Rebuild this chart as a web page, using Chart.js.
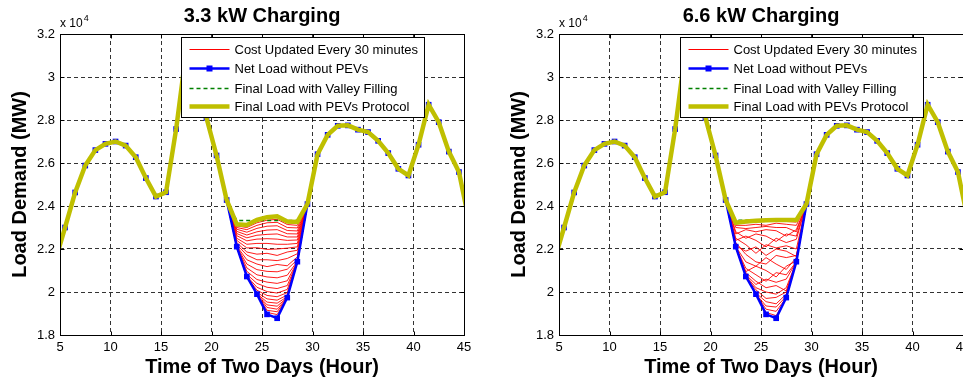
<!DOCTYPE html>
<html>
<head>
<meta charset="utf-8">
<script src="https://cdn.jsdelivr.net/npm/chart.js@4.4.0/dist/chart.umd.min.js"></script>
<style>
html, body { margin: 0; padding: 0; background: #fff; overflow: hidden; width: 963px; height: 382px; }
#chart33 { position: absolute; left: 0; top: 0; }
#chart66 { position: absolute; left: 499px; top: 0; }
</style>
</head>
<body>
<canvas id="chart33" width="480" height="382"></canvas>
<canvas id="chart66" width="480" height="382"></canvas>
<script>
// load values in units of 10^4 MW, one per hour
const hours = [4.5, 5.5, 6.5, 7.5, 8.5, 9.5, 10.5, 11.5, 12.5, 13.5, 14.5, 15.5, 16.5, 17.5,
    18.5, 19.5, 20.5, 21.5, 22.5, 23.5, 24.5, 25.5, 26.5, 27.5, 28.5, 29.5, 30.5, 31.5,
    32.5, 33.5, 34.5, 35.5, 36.5, 37.5, 38.5, 39.5, 40.5, 41.5, 42.5, 43.5, 44.5, 45.5];
const netLoad = [2.14, 2.30, 2.463, 2.588, 2.66, 2.689, 2.70, 2.681, 2.627, 2.53, 2.444, 2.464, 2.758, 3.12,
    3.04, 2.81, 2.635, 2.428, 2.211, 2.072, 1.99, 1.896, 1.878, 1.974, 2.141, 2.409, 2.641, 2.731,
    2.773, 2.775, 2.755, 2.744, 2.703, 2.646, 2.573, 2.542, 2.685, 2.871, 2.79, 2.653, 2.558, 2.33];

// the valley hours 22.5 .. 28.5 (index 18 .. 24 of hours)
const valleyStart = 18;
const fill33 = [2.333, 2.333, 2.333, 2.333, 2.333, 2.333, 2.333];
const final33 = [2.315, 2.312, 2.335, 2.348, 2.352, 2.328, 2.326];
const fill66 = [2.334, 2.334, 2.334, 2.334, 2.334, 2.334, 2.334];
const final66 = [2.322, 2.328, 2.331, 2.334, 2.335, 2.335, 2.335];

const iter33 = [
    [2.211, 2.072, 1.990, 1.905, 1.895, 1.974, 2.141],
    [2.211, 2.072, 1.990, 1.915, 1.908, 1.974, 2.141],
    [2.211, 2.072, 1.990, 1.928, 1.920, 1.974, 2.141],
    [2.211, 2.072, 1.990, 1.940, 1.934, 1.974, 2.141],
    [2.211, 2.072, 1.992, 1.953, 1.948, 1.978, 2.141],
    [2.211, 2.072, 1.998, 1.968, 1.962, 1.986, 2.141],
    [2.211, 2.072, 2.008, 1.984, 1.978, 1.997, 2.141],
    [2.211, 2.074, 2.022, 2.002, 1.995, 2.012, 2.141],
    [2.211, 2.082, 2.040, 2.022, 2.016, 2.030, 2.141],
    [2.211, 2.096, 2.058, 2.046, 2.040, 2.052, 2.141],
    [2.211, 2.112, 2.080, 2.070, 2.066, 2.078, 2.143],
    [2.211, 2.130, 2.104, 2.096, 2.094, 2.106, 2.150],
    [2.213, 2.150, 2.130, 2.118, 2.128, 2.122, 2.163],
    [2.220, 2.172, 2.150, 2.150, 2.146, 2.156, 2.178],
    [2.230, 2.186, 2.176, 2.180, 2.170, 2.186, 2.194],
    [2.240, 2.205, 2.206, 2.198, 2.200, 2.204, 2.210],
    [2.250, 2.222, 2.226, 2.226, 2.222, 2.222, 2.226],
    [2.262, 2.238, 2.246, 2.248, 2.246, 2.240, 2.242],
    [2.272, 2.252, 2.264, 2.268, 2.270, 2.256, 2.256],
    [2.282, 2.265, 2.280, 2.288, 2.290, 2.271, 2.270],
    [2.292, 2.278, 2.296, 2.306, 2.308, 2.286, 2.284],
    [2.300, 2.290, 2.310, 2.322, 2.324, 2.300, 2.298],
    [2.307, 2.300, 2.322, 2.334, 2.338, 2.314, 2.310],
    [2.312, 2.308, 2.330, 2.344, 2.348, 2.323, 2.320]
];
const iter66 = [
    [2.211, 2.072, 1.990, 1.905, 1.890, 1.974, 2.141],
    [2.211, 2.072, 1.990, 1.920, 1.910, 1.974, 2.141],
    [2.211, 2.072, 1.990, 1.935, 1.930, 1.980, 2.141],
    [2.211, 2.072, 1.995, 1.955, 1.945, 1.990, 2.141],
    [2.211, 2.072, 2.010, 1.970, 1.975, 2.000, 2.141],
    [2.211, 2.075, 2.020, 2.000, 1.990, 2.020, 2.141],
    [2.211, 2.090, 2.050, 2.020, 2.030, 2.005, 2.141],
    [2.211, 2.080, 2.035, 2.060, 2.045, 2.060, 2.141],
    [2.211, 2.110, 2.080, 2.050, 2.090, 2.080, 2.141],
    [2.211, 2.095, 2.120, 2.100, 2.070, 2.120, 2.145],
    [2.211, 2.140, 2.120, 2.160, 2.130, 2.105, 2.160],
    [2.230, 2.175, 2.140, 2.130, 2.170, 2.160, 2.170],
    [2.215, 2.190, 2.210, 2.170, 2.200, 2.190, 2.165],
    [2.250, 2.220, 2.180, 2.220, 2.205, 2.215, 2.200],
    [2.240, 2.260, 2.240, 2.210, 2.250, 2.230, 2.245],
    [2.280, 2.250, 2.270, 2.260, 2.235, 2.270, 2.260],
    [2.270, 2.290, 2.280, 2.290, 2.285, 2.260, 2.290],
    [2.300, 2.295, 2.300, 2.305, 2.300, 2.300, 2.280],
    [2.310, 2.310, 2.315, 2.310, 2.320, 2.315, 2.310],
    [2.318, 2.322, 2.325, 2.328, 2.330, 2.328, 2.325]
];

const xTicks = [5, 10, 15, 20, 25, 30, 35, 40, 45];
const yTicks = [1.8, 2, 2.2, 2.4, 2.6, 2.8, 3, 3.2];
const seriesNames = ['Cost Updated Every 30 minutes', 'Net Load without PEVs',
    'Final Load with Valley Filling', 'Final Load with PEVs Protocol'];

const FONT = '"Liberation Sans", Arial, Helvetica, sans-serif';
const RED = '#ff0000', BLUE = '#0000ff', GREEN = '#008000', OLIVE = '#bfbf00';

function withValley(valley) {
    return hours.map((h, i) => {
        const k = i - valleyStart;
        return {x: h, y: (k >= 0 && k < valley.length) ? valley[k] : netLoad[i]};
    });
}

function iterLine(valley) {
    // runs from the hour before the valley to the hour after it
    const pts = [{x: hours[valleyStart - 1], y: netLoad[valleyStart - 1]}];
    valley.forEach((v, k) => pts.push({x: hours[valleyStart + k], y: v}));
    const e = valleyStart + valley.length;
    pts.push({x: hours[e], y: netLoad[e]});
    return pts;
}

const frame = {
    id: 'frame',
    afterDraw(chart) {
        const {ctx, chartArea: a, scales: {x, y}} = chart;
        const L = Math.round(a.left) + 0.5, T = Math.round(a.top) + 0.5;
        const R = Math.round(a.right) + 0.5, B = Math.round(a.bottom) + 0.5;
        ctx.save();
        ctx.setLineDash([]);
        ctx.strokeStyle = '#000';
        ctx.lineWidth = 1;
        ctx.beginPath();
        xTicks.forEach(v => {
            const px = Math.round(x.getPixelForValue(v)) + 0.5;
            ctx.moveTo(px, B); ctx.lineTo(px, B - 4);
            ctx.moveTo(px, T); ctx.lineTo(px, T + 4);
        });
        yTicks.forEach(v => {
            const py = Math.round(y.getPixelForValue(v)) + 0.5;
            ctx.moveTo(L, py); ctx.lineTo(L + 4, py);
            ctx.moveTo(R, py); ctx.lineTo(R - 4, py);
        });
        ctx.stroke();
        ctx.strokeRect(L, T, R - L, B - T);

        // axis multiplier
        ctx.fillStyle = '#000';
        ctx.textAlign = 'left';
        ctx.textBaseline = 'alphabetic';
        ctx.font = '12px ' + FONT;
        ctx.fillText('x 10', a.left, a.top - 7);
        const w = ctx.measureText('x 10').width;
        ctx.font = '9px ' + FONT;
        ctx.fillText('4', a.left + w + 1, a.top - 13);

        // legend box
        const bx = Math.round(a.left + 121) + 0.5, by = Math.round(a.top + 3) + 0.5;
        ctx.fillStyle = '#fff';
        ctx.fillRect(bx, by, 243, 80);
        ctx.strokeRect(bx, by, 243, 80);
        const rows = [12, 31, 51, 69];
        const x0 = bx + 8, x1 = bx + 48;
        ctx.font = '13px ' + FONT;
        ctx.textBaseline = 'middle';
        seriesNames.forEach((name, i) => {
            const ry = by + rows[i];
            ctx.beginPath();
            ctx.setLineDash(i === 2 ? [4, 3] : []);
            ctx.strokeStyle = [RED, BLUE, GREEN, OLIVE][i];
            ctx.lineWidth = [1, 2.5, 1.5, 4.5][i];
            ctx.moveTo(x0, ry); ctx.lineTo(x1, ry);
            ctx.stroke();
            if (i === 1) {
                ctx.fillStyle = BLUE;
                ctx.fillRect((x0 + x1) / 2 - 3, ry - 3, 6, 6);
            }
            ctx.fillStyle = '#000';
            ctx.fillText(name, bx + 53, ry + 1);
        });
        ctx.restore();
    }
};

function makeChart(id, title, fill, fin, iters) {
    const datasets = [
        {label: seriesNames[3], data: withValley(fin), borderColor: OLIVE, borderWidth: 4.5,
            pointRadius: 0, order: 0},
        {label: seriesNames[2], data: withValley(fill), borderColor: GREEN, borderWidth: 1.5,
            borderDash: [4, 3], pointRadius: 0, order: 1},
        {label: seriesNames[1], data: withValley([]), borderColor: BLUE, borderWidth: 2.5,
            pointStyle: 'rect', pointRadius: 4, pointBackgroundColor: BLUE, pointBorderWidth: 0, order: 2}
    ];
    iters.forEach(v => datasets.push({label: seriesNames[0], data: iterLine(v), borderColor: RED,
        borderWidth: 0.9, pointRadius: 0, order: 3}));

    new Chart(document.getElementById(id), {
        type: 'line',
        data: {datasets: datasets},
        options: {
            responsive: false,
            animation: false,
            layout: {padding: {left: 0, right: 16, top: 0, bottom: 0}},
            plugins: {
                legend: {display: false},
                tooltip: {enabled: false},
                title: {
                    display: true,
                    text: title,
                    fullSize: false,
                    color: '#000',
                    font: {family: FONT, size: 20, weight: 'bold'},
                    padding: {top: 4, bottom: 6}
                }
            },
            scales: {
                x: {
                    type: 'linear',
                    min: 5,
                    max: 45,
                    afterBuildTicks: s => { s.ticks = xTicks.map(v => ({value: v})); },
                    afterFit: s => { s.height = 47; },
                    ticks: {color: '#000', font: {family: FONT, size: 13}, padding: 5, maxRotation: 0},
                    grid: {color: 'rgba(0,0,0,0.8)', drawTicks: false},
                    border: {display: false, dash: [4, 3]},
                    title: {display: true, text: 'Time of Two Days (Hour)', color: '#000',
                        font: {family: FONT, size: 20, weight: 'bold'}, padding: {top: 0, bottom: 3}}
                },
                y: {
                    min: 1.8,
                    max: 3.2,
                    afterBuildTicks: s => { s.ticks = yTicks.map(v => ({value: v})); },
                    afterFit: s => { s.width = 60; },
                    ticks: {color: '#000', font: {family: FONT, size: 13}, padding: 5,
                        callback: v => String(v)},
                    grid: {color: 'rgba(0,0,0,0.8)', drawTicks: false},
                    border: {display: false, dash: [4, 3]},
                    title: {display: true, text: 'Load Demand (MW)', color: '#000',
                        font: {family: FONT, size: 20, weight: 'bold'}, padding: {top: 8, bottom: 0}}
                }
            }
        },
        plugins: [frame]
    });
}

makeChart('chart33', '3.3 kW Charging', fill33, final33, iter33);
makeChart('chart66', '6.6 kW Charging', fill66, final66, iter66);
</script>
</body>
</html>
